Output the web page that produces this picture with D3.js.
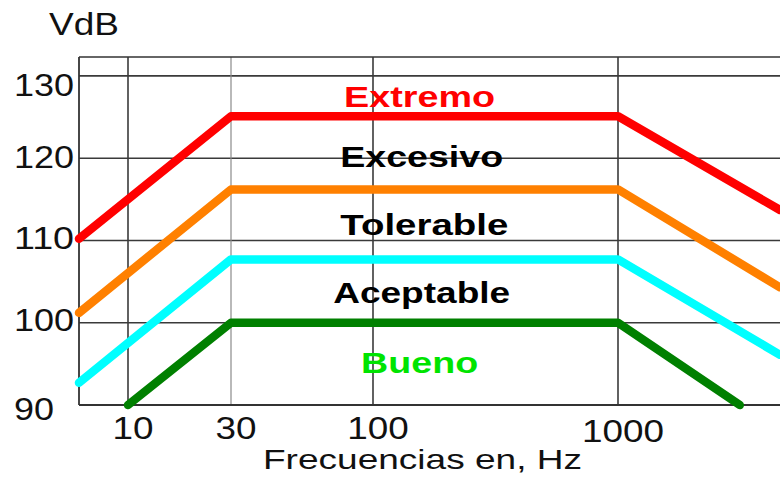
<!DOCTYPE html>
<html>
<head>
<meta charset="utf-8">
<script src="https://cdn.jsdelivr.net/npm/d3@7"></script>
<style>
  html, body { margin: 0; padding: 0; background: #fff; }
  svg { display: block; }
  text { font-family: "Liberation Sans", Arial, sans-serif; }
</style>
</head>
<body>
<svg id="chart" width="780" height="477"></svg>
<script>
// ---- data ----
const xTicks = [10, 30, 100, 1000];
const yTicks = [90, 100, 110, 120, 130];
const yGrid = [100, 110, 120, 130];

const seriesNames = ["Extremo", "Excesivo-Tolerable", "Aceptable", "Bueno"];
const redLine    = [[5.9, 110.2], [30, 125.1], [1000, 125.1], [4600, 113.7]];
const orangeLine = [[5.9, 101.2], [30, 116.2], [1000, 116.2], [4600, 104.3]];
const cyanLine   = [[5.9, 92.7],  [30, 107.7], [1000, 107.7], [4600, 96.1]];
const greenLine  = [[10, 90],     [30, 100],   [1000, 100],   [3150, 90]];

const zoneLabels = ["Extremo", "Excesivo", "Tolerable", "Aceptable", "Bueno"];
const zoneLabelFreq = [155, 158, 162, 158, 155];
const zoneLabelDb = [126.2, 118.9, 110.7, 102.4, 93.9];

// ---- layout ----
const svg = d3.select("#chart");
const mLeft = 79, mTop = 57, mBottom = 405, mRight = 780;

const x = d3.scaleLog()
  .domain([5.9, 10, 30, 100, 1000, 4600])
  .range([mLeft, 128, 231, 373, 618, mRight]);
const y = d3.scaleLinear().domain([90, 132.3]).range([mBottom, mTop]);

// grid
const g = svg.append("g");
g.selectAll(".hg").data(yGrid).join("line")
  .attr("x1", mLeft).attr("x2", mRight)
  .attr("y1", d => y(d)).attr("y2", d => y(d))
  .attr("stroke", "#3a3a3a").attr("stroke-width", 1.6);
g.selectAll(".vg").data(xTicks).join("line")
  .attr("x1", d => x(d)).attr("x2", d => x(d))
  .attr("y1", mTop).attr("y2", mBottom)
  .attr("stroke", d => d === 30 ? "#8a8a8a" : "#3a3a3a")
  .attr("stroke-width", d => d === 30 ? 1.2 : 1.6);
// frame
g.append("line").attr("x1", mLeft).attr("x2", mLeft).attr("y1", mTop).attr("y2", mBottom)
  .attr("stroke", "#333").attr("stroke-width", 1.8);
g.append("line").attr("x1", mLeft).attr("x2", mRight).attr("y1", mTop).attr("y2", mTop)
  .attr("stroke", "#333").attr("stroke-width", 1.6);
g.append("line").attr("x1", mLeft).attr("x2", mRight).attr("y1", mBottom).attr("y2", mBottom)
  .attr("stroke", "#333").attr("stroke-width", 1.8);

// lines
const line = d3.line().x(d => x(d[0])).y(d => y(d[1]));
const series = [
  {data: redLine, color: "#ff0000"},
  {data: orangeLine, color: "#ff8000"},
  {data: cyanLine, color: "#00ffff"},
  {data: greenLine, color: "#008000"}
];
svg.append("g").selectAll("path").data(series).join("path")
  .attr("d", d => line(d.data))
  .attr("fill", "none")
  .attr("stroke", d => d.color)
  .attr("stroke-width", 8.5)
  .attr("stroke-linejoin", "round")
  .attr("stroke-linecap", "round");

// y tick labels
const yDy = {130: 10, 120: -1, 110: -2, 100: -2, 90: 4};
svg.append("g").selectAll("text").data(yTicks).join("text")
  .attr("x", 14)
  .attr("y", d => y(d) + yDy[d])
  .attr("dominant-baseline", "central")
  .attr("font-size", 31)
  .attr("fill", "#111")
  .attr("textLength", d => String(d).length * 20)
  .attr("lengthAdjust", "spacingAndGlyphs")
  .text(d => d);

// x tick labels
svg.append("g").selectAll("text").data(xTicks).join("text")
  .attr("x", d => x(d) + 5)
  .attr("y", d => d === 1000 ? 442 : 439)
  .attr("text-anchor", "middle")
  .attr("font-size", 31)
  .attr("fill", "#111")
  .attr("textLength", d => String(d).length * 20.5)
  .attr("lengthAdjust", "spacingAndGlyphs")
  .text(d => d);

// axis titles
svg.append("text").attr("x", 49).attr("y", 35)
  .attr("font-size", 31).attr("fill", "#111")
  .attr("textLength", 70).attr("lengthAdjust", "spacingAndGlyphs")
  .text("VdB");
svg.append("text").attr("x", 263).attr("y", 469)
  .attr("font-size", 28).attr("fill", "#111")
  .attr("textLength", 319).attr("lengthAdjust", "spacingAndGlyphs")
  .text("Frecuencias en, Hz");

// zone labels
const zoneColors = ["#ff0000", "#000", "#000", "#000", "#00e400"];
const zoneWidths = [151, 163, 168, 177, 117];
svg.append("g").selectAll("text").data(zoneLabels).join("text")
  .attr("x", (d, i) => x(zoneLabelFreq[i]))
  .attr("y", (d, i) => y(zoneLabelDb[i]))
  .attr("text-anchor", "middle")
  .attr("font-size", 30)
  .attr("font-weight", "bold")
  .attr("fill", (d, i) => zoneColors[i])
  .attr("textLength", (d, i) => zoneWidths[i])
  .attr("lengthAdjust", "spacingAndGlyphs")
  .text(d => d);
</script>
</body>
</html>
